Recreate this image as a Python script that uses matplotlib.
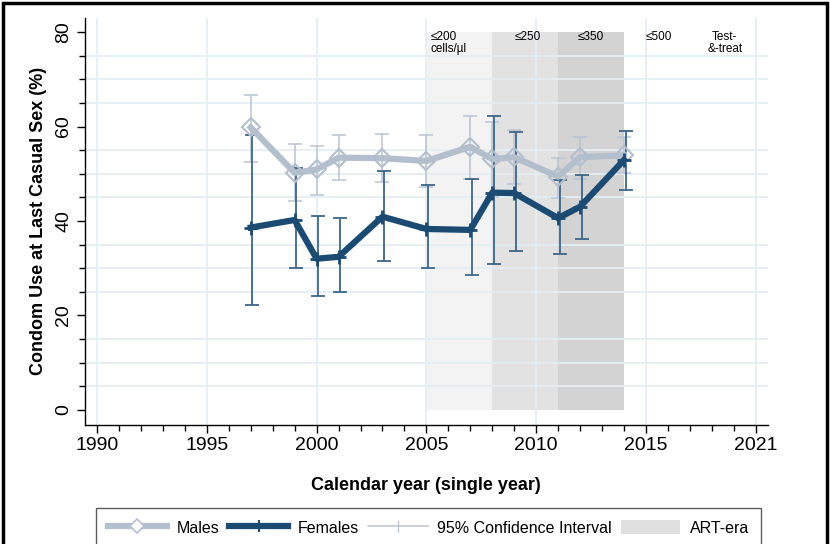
import matplotlib.pyplot as plt
import matplotlib
from matplotlib.patches import Rectangle, Patch
from matplotlib.lines import Line2D
import numpy as np

matplotlib.rcParams['font.family'] = ['Liberation Sans', 'DejaVu Sans']

years = [1997, 1999, 2000, 2001, 2003, 2005, 2007, 2008, 2009, 2011, 2012, 2014]

males = [59.8, 50.2, 50.9, 53.4, 53.3, 52.7, 55.7, 53.1, 53.5, 49.4, 53.5, 53.9]
males_lo = [52.5, 44.3, 45.6, 48.7, 48.2, 47.1, 48.8, 45.0, 47.8, 44.8, 48.8, 50.1]
males_hi = [66.7, 56.2, 55.9, 58.3, 58.5, 58.1, 62.3, 61.0, 59.3, 53.4, 57.7, 57.7]

females = [38.6, 40.2, 32.0, 32.4, 40.9, 38.3, 38.1, 46.0, 45.9, 40.6, 43.0, 52.9]
females_lo = [22.1, 30.0, 24.1, 25.0, 31.5, 30.0, 28.6, 30.9, 33.7, 33.0, 36.1, 46.6]
females_hi = [58.2, 51.3, 41.1, 40.6, 50.6, 47.6, 48.8, 62.2, 58.8, 48.7, 49.7, 59.1]

art_starts = [2005, 2008, 2011]
art_ends = [2008, 2011, 2014]
art_colors = ['#f3f3f3', '#e2e2e2', '#d3d3d3']

era_labels = ['\u2264200\ncells/\u00b5l', '\u2264250', '\u2264350', '\u2264500', 'Test-\n&-treat']
era_x = [2005.2, 2009.0, 2011.9, 2015.0, 2018.6]
era_ha = ['left', 'left', 'left', 'left', 'center']

xticks = [1990, 1995, 2000, 2005, 2010, 2015, 2020]
xticklabels = ['1990', '1995', '2000', '2005', '2010', '2015', '2021']

male_col = '#b3bfcc'
male_ci = '#b9c5d2'
fem_col = '#1b4a73'
fem_ci = '#3d6689'
grid_col = '#e4eef3'

fig = plt.figure(figsize=(8.3, 5.44), dpi=100)
ax = fig.add_axes([0.1024, 0.219, 0.8226, 0.748])

for s, e, c in zip(art_starts, art_ends, art_colors):
	ax.fill_between([s, e], 0, 80, color=c, linewidth=0, zorder=1)

ax.set_xticks(xticks)
ax.set_xticklabels(xticklabels)
ax.set_xticks(np.arange(1990, 2021, 1), minor=True)
ax.set_yticks([0, 20, 40, 60, 80])
ax.set_yticks(np.arange(0, 81, 5), minor=True)
ax.grid(True, which='major', axis='x', color=grid_col, linewidth=1.3, zorder=1.5)
ax.grid(True, which='minor', axis='y', color=grid_col, linewidth=1.3, zorder=1.5)
ax.set_axisbelow('line')

yerr_m = [np.array(males) - np.array(males_lo), np.array(males_hi) - np.array(males)]
yerr_f = [np.array(females) - np.array(females_lo), np.array(females_hi) - np.array(females)]
ax.errorbar(years, males, yerr=yerr_m, fmt='none', ecolor=male_ci, elinewidth=1.1,
	capsize=5, capthick=1.1, zorder=3)
ax.errorbar(np.array(years) + 0.08, females, yerr=yerr_f, fmt='none', ecolor=fem_ci,
	elinewidth=1.3, capsize=5, capthick=1.3, zorder=3)

ax.plot(years, males, color=male_col, linewidth=4.5, marker='D', markersize=9,
	markerfacecolor='none', markeredgecolor=male_col, markeredgewidth=1.5, zorder=4)
ax.plot(years, females, color=fem_col, linewidth=4.5, marker='+', markersize=10,
	markeredgewidth=2, zorder=5)

for lab, x, ha in zip(era_labels, era_x, era_ha):
	ax.text(x, 80.2, lab, ha=ha, va='top', fontsize=8.5, linespacing=0.95, zorder=6)

ax.set_xlim(1989.45, 2020.55)
ax.set_ylim(-3.2, 83)
for sp in ['top', 'right']:
	ax.spines[sp].set_visible(False)
ax.spines['left'].set_linewidth(1.0)
ax.spines['bottom'].set_linewidth(1.0)
ax.tick_params(axis='both', which='major', length=6, labelsize=14, width=1.0)
ax.tick_params(axis='both', which='minor', length=4, width=1.0)
ax.tick_params(axis='y', labelrotation=90, pad=3)
for t in ax.get_yticklabels():
	t.set_verticalalignment('center')
ax.tick_params(axis='x', pad=3)

ax.set_xlabel('Calendar year (single year)', fontsize=13, weight='bold', labelpad=16)
ax.set_ylabel('Condom Use at Last Casual Sex (%)', fontsize=13, weight='bold', labelpad=6)

handles = [
	Line2D([], [], color=male_col, linewidth=4.5, marker='D', markersize=7,
		markerfacecolor='white', markeredgecolor=male_col, markeredgewidth=1.2),
	Line2D([], [], color=fem_col, linewidth=4.5, marker='+', markersize=9, markeredgewidth=1.5),
	Line2D([], [], color=male_ci, linewidth=1.1, marker='|', markersize=8, markevery=[1]),
	Patch(facecolor='#e0e0e0', edgecolor='none'),
]
leg = fig.legend(handles, ['Males', 'Females', '95% Confidence Interval', 'ART-era'],
	loc='upper left', bbox_to_anchor=(0.106, 1 - 500 / 544), ncol=4, fontsize=11.5,
	frameon=True, fancybox=False, edgecolor='#333333', handlelength=3.7,
	handleheight=1.0, handletextpad=0.6, columnspacing=0.6, borderpad=0.75)
leg.get_frame().set_linewidth(1.0)

fig.patches.append(Rectangle((0.004, -0.01), 0.992, 1.004, transform=fig.transFigure,
	fill=False, edgecolor='black', linewidth=2.5))

plt.savefig('out.png', dpi=100)
